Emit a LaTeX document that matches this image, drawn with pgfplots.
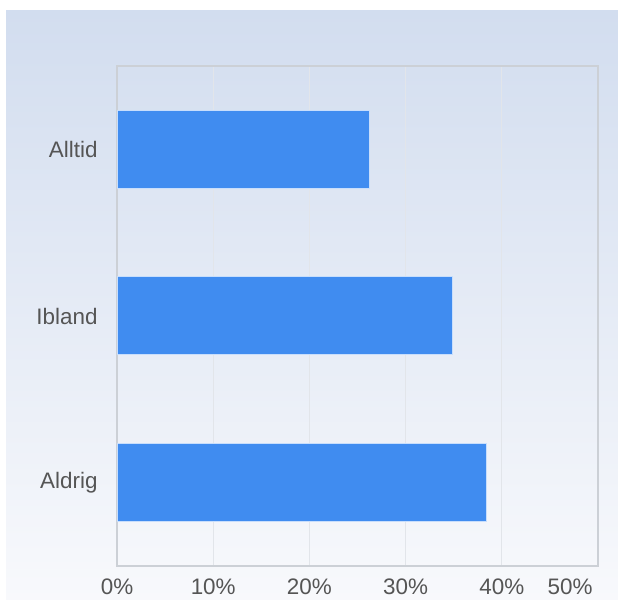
\documentclass[border=0pt]{standalone}
\usepackage{pgfplots}
\pgfplotsset{compat=1.18}
\usepackage{fontspec}
\setmainfont{Liberation Sans}
\definecolor{barblue}{RGB}{64,140,240}
\definecolor{barborder}{RGB}{200,222,252}
\definecolor{bgtop}{RGB}{210,221,239}
\definecolor{bgbot}{RGB}{248,249,252}
\definecolor{gridgray}{RGB}{226,229,234}
\definecolor{bordergray}{RGB}{204,208,214}
\definecolor{labelgray}{RGB}{85,85,85}
\begin{document}
\begin{tikzpicture}[x=1bp,y=1bp]
\useasboundingbox (0,0) rectangle (618,600);
\fill[white] (0,0) rectangle (618,600);
\shade[top color=bgtop, bottom color=bgbot] (6,0) rectangle (618,589);
\begin{axis}[
  at={(117bp,34bp)}, anchor=south west,
  scale only axis, width=481bp, height=500bp,
  xbar, bar width=78bp,
  xmin=0, xmax=50, ymin=-0.5, ymax=2.5,
  ytick={0,1,2}, yticklabels={Aldrig,Ibland,Alltid},
  xtick={0,10,20,30,40},
  xticklabels={0\%,10\%,20\%,30\%,40\%},
  extra x ticks={50}, extra x tick labels={50\%},
  extra x tick style={grid=none, xticklabel style={anchor=north east, xshift=-2bp}},
  xmajorgrids,
  major grid style={gridgray, line width=1bp},
  axis line style={bordergray, line width=1.2bp},
  major tick length=0pt,
  tick label style={font=\fontsize{22.5}{26}\selectfont, text=labelgray},
  xticklabel style={yshift=-9bp},
  yticklabel style={xshift=-16bp},
]
\addplot[fill=barblue, draw=barborder, line width=1bp] coordinates {(38.4,0) (34.9,1) (26.2,2)};
\end{axis}
\end{tikzpicture}
\end{document}
